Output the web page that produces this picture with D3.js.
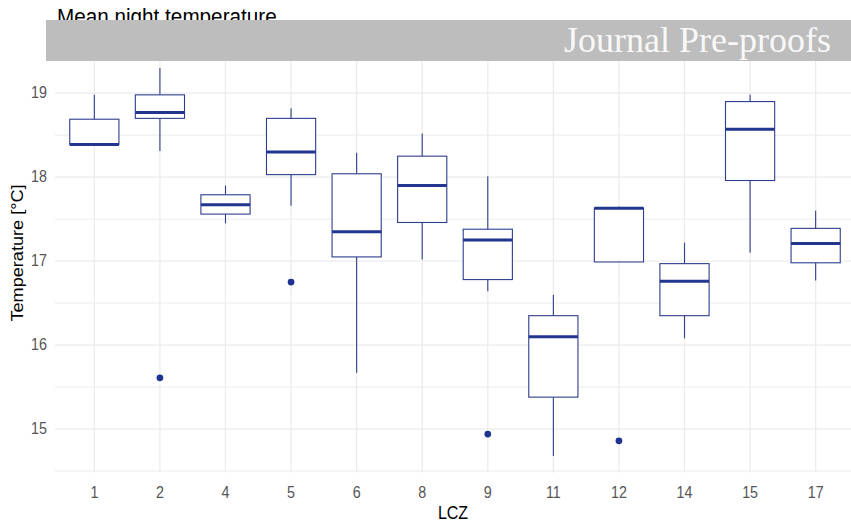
<!DOCTYPE html>
<html>
<head>
<meta charset="utf-8">
<script src="https://cdn.jsdelivr.net/npm/d3@7"></script>
<style>
  body { margin: 0; background: #fff; }
  text { font-family: "Liberation Sans", Arial, sans-serif; }
</style>
</head>
<body>
<div id="chart"></div>
<script>
/* DATA */
const lcz = ["1", "2", "4", "5", "6", "8", "9", "11", "12", "14", "15", "17"];
const whiskerLow = [18.39, 18.31, 17.45, 17.66, 15.67, 17.02, 16.64, 14.68, 16.99, 16.08, 17.10, 16.77];
const q1 = [18.39, 18.70, 17.56, 18.03, 17.05, 17.46, 16.78, 15.38, 16.99, 16.35, 17.96, 16.98];
const median = [18.39, 18.77, 17.67, 18.30, 17.35, 17.90, 17.25, 16.10, 17.63, 16.76, 18.57, 17.21];
const q3 = [18.69, 18.98, 17.79, 18.70, 18.04, 18.25, 17.38, 16.35, 17.63, 16.97, 18.90, 17.39];
const whiskerHigh = [18.98, 19.30, 17.90, 18.82, 18.29, 18.52, 18.01, 16.60, 17.65, 17.22, 18.98, 17.60];
const outlierLcz = ["2", "5", "9", "12"];
const outlierValue = [15.61, 16.75, 14.94, 14.86];
const yTicks = [15, 16, 17, 18, 19];
const yMinorTicks = [14.5, 15.5, 16.5, 17.5, 18.5, 19.5];

/* CONSTANTS */
const width = 851,
  height = 526,
  margin = { top: 47, bottom: 53.3, left: 55, right: -4 },
  boxColor = "#2e3d8c",
  medianColor = "#22358f",
  gridColor = "#ebebeb",
  stretch = 1.1; // text in the source looks slightly taller than wide

const boxes = lcz.map((c, i) => ({
  lcz: c,
  lo: whiskerLow[i],
  q1: q1[i],
  med: median[i],
  q3: q3[i],
  hi: whiskerHigh[i]
}));
const outliers = outlierLcz.map((c, i) => ({ lcz: c, value: outlierValue[i] }));

const svg = d3.select("#chart")
  .append("svg")
  .attr("width", width)
  .attr("height", height);

// SCALES
const xScale = d3.scalePoint()
  .domain(lcz)
  .range([margin.left, width - margin.right])
  .padding(0.6);

const yScale = d3.scaleLinear()
  .domain([14.48, 19.55])
  .range([height - margin.bottom, margin.top]);

const step = xScale.step();
const boxW = step * 0.75;

// small helper for stretched text
function label(g, x, y, txt, opts) {
  const t = g.append("g")
    .attr("transform", `translate(${x},${y}) scale(1,${stretch})`)
    .append("text")
    .attr("text-anchor", opts.anchor || "start")
    .attr("font-size", opts.size)
    .attr("fill", opts.fill || "#000")
    .text(txt);
  if (opts.family) t.style("font-family", opts.family);
  return t;
}

// TITLE (partially hidden by the banner)
label(svg, 57, 24, "Mean night temperature", { size: 20.7 });

// GRID
const grid = svg.append("g").attr("class", "grid");
grid.selectAll(".minor")
  .data(yMinorTicks.filter(d => d > yScale.domain()[0] - 0.05))
  .join("line")
  .attr("x1", margin.left)
  .attr("x2", width - margin.right)
  .attr("y1", d => yScale(d))
  .attr("y2", d => yScale(d))
  .attr("stroke", gridColor)
  .attr("stroke-width", 1);

grid.selectAll(".major")
  .data(yTicks)
  .join("line")
  .attr("x1", margin.left)
  .attr("x2", width - margin.right)
  .attr("y1", d => yScale(d))
  .attr("y2", d => yScale(d))
  .attr("stroke", gridColor)
  .attr("stroke-width", 1.2);

grid.selectAll(".vert")
  .data(lcz)
  .join("line")
  .attr("x1", d => xScale(d))
  .attr("x2", d => xScale(d))
  .attr("y1", margin.top)
  .attr("y2", height - margin.bottom)
  .attr("stroke", gridColor)
  .attr("stroke-width", 1.2);

// AXES (text only, theme_minimal style)
const yAxis = d3.axisLeft(yScale).tickValues(yTicks).tickSize(0).tickPadding(8);
const yG = svg.append("g")
  .attr("transform", `translate(${margin.left}, 0)`)
  .call(yAxis);
yG.select(".domain").remove();
yG.selectAll("text").remove();
yTicks.forEach(v => label(svg, 47, yScale(v) + 5, v, { size: 14.3, fill: "#555", anchor: "end" }));

const xAxis = d3.axisBottom(xScale).tickSize(0);
const xG = svg.append("g")
  .attr("transform", `translate(0, ${height - margin.bottom})`)
  .call(xAxis);
xG.select(".domain").remove();
xG.selectAll("text").remove();
lcz.forEach(c => label(svg, xScale(c), 498, c, { size: 14.3, fill: "#555", anchor: "middle" }));

// AXIS TITLES
label(svg, 453, 519, "LCZ", { size: 16 , anchor: "middle"});
svg.append("g")
  .attr("transform", `translate(23, 253) rotate(-90) scale(${stretch},1)`)
  .append("text")
  .attr("text-anchor", "middle")
  .attr("font-size", 16.5)
  .attr("fill", "#000")
  .text("Temperature [°C]");

// BOXPLOTS
const bx = svg.selectAll(".box")
  .data(boxes)
  .join("g")
  .attr("class", "box");

bx.append("line")
  .attr("x1", d => xScale(d.lcz))
  .attr("x2", d => xScale(d.lcz))
  .attr("y1", d => yScale(d.hi))
  .attr("y2", d => yScale(d.q3))
  .attr("stroke", boxColor)
  .attr("stroke-width", 1.1);

bx.append("line")
  .attr("x1", d => xScale(d.lcz))
  .attr("x2", d => xScale(d.lcz))
  .attr("y1", d => yScale(d.q1))
  .attr("y2", d => yScale(d.lo))
  .attr("stroke", boxColor)
  .attr("stroke-width", 1.1);

bx.append("rect")
  .attr("x", d => xScale(d.lcz) - boxW / 2)
  .attr("width", boxW)
  .attr("y", d => yScale(d.q3))
  .attr("height", d => yScale(d.q1) - yScale(d.q3))
  .attr("fill", "#fff")
  .attr("stroke", boxColor)
  .attr("stroke-width", 1.1);

bx.append("line")
  .attr("x1", d => xScale(d.lcz) - boxW / 2)
  .attr("x2", d => xScale(d.lcz) + boxW / 2)
  .attr("y1", d => yScale(d.med))
  .attr("y2", d => yScale(d.med))
  .attr("stroke", medianColor)
  .attr("stroke-width", 3);

svg.selectAll(".outlier")
  .data(outliers)
  .join("circle")
  .attr("class", "outlier")
  .attr("cx", d => xScale(d.lcz))
  .attr("cy", d => yScale(d.value))
  .attr("r", 3.4)
  .attr("fill", "#1f3491");

// BANNER
svg.append("rect")
  .attr("x", 46)
  .attr("y", 20)
  .attr("width", width - 46)
  .attr("height", 41)
  .attr("fill", "#bdbdbd");

svg.append("text")
  .attr("x", 831)
  .attr("y", 52)
  .attr("text-anchor", "end")
  .attr("font-size", 36)
  .attr("fill", "#f8f8f8")
  .style("font-family", "'Liberation Serif', 'Times New Roman', serif")
  .text("Journal Pre-proofs");
</script>
</body>
</html>
